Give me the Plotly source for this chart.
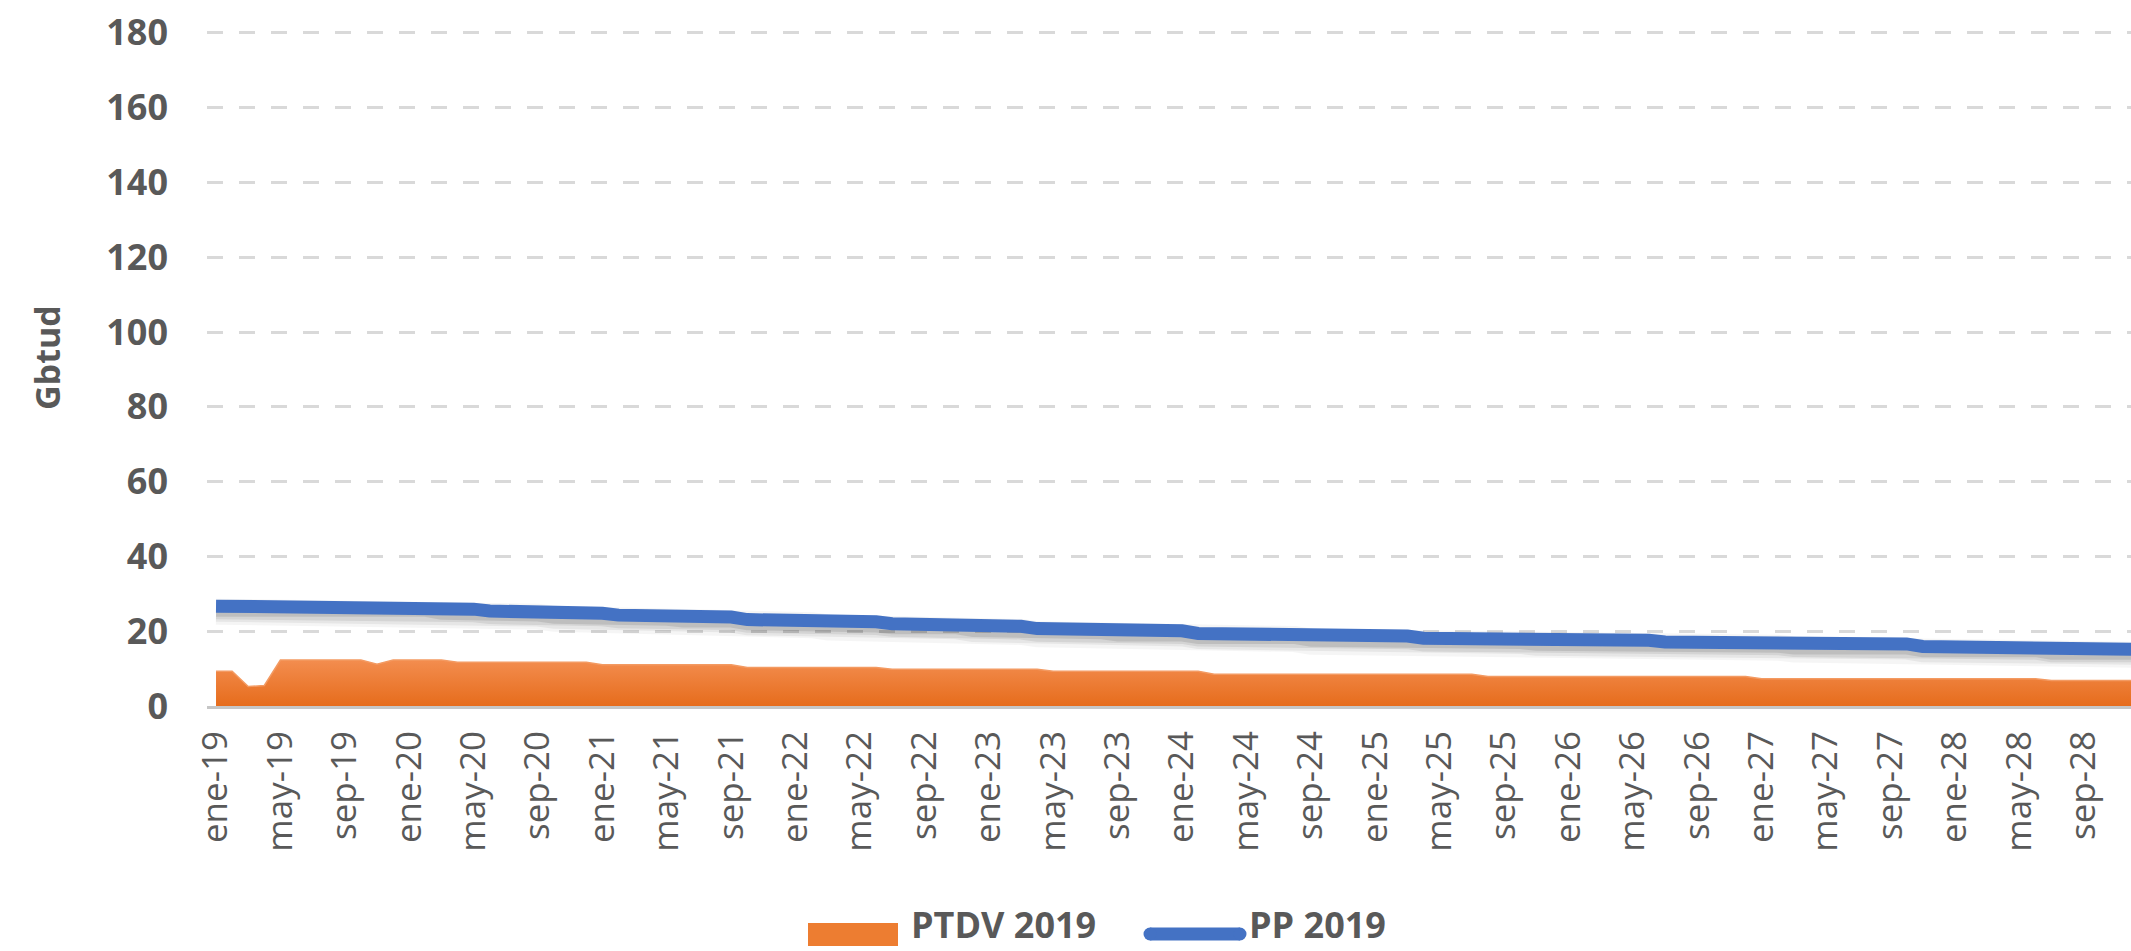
import plotly.graph_objects as go

# ---------------- data ----------------
MONTH_ABBR = ["ene", "feb", "mar", "abr", "may", "jun", "jul", "ago", "sep", "oct", "nov", "dic"]
YEARS = ["19", "20", "21", "22", "23", "24", "25", "26", "27", "28"]
months = [f"{m}-{y}" for y in YEARS for m in MONTH_ABBR]

ptdv_2019 = (
    [9.3, 9.3, 5.2, 5.5]
    + [12.3] * 6
    + [11.2]
    + [12.3] * 4
    + [11.7] * 9
    + [11.0] * 9
    + [10.3] * 9
    + [9.8] * 10
    + [9.3] * 10
    + [8.5] * 17
    + [7.9] * 17
    + [7.3] * 18
    + [6.8] * 6
)

pp_2019 = (
    [26.7] * 14
    + [25.9] * 3
    + [25.4] * 4
    + [24.8] * 4
    + [24.3] * 4
    + [23.8] * 4
    + [23.1] * 5
    + [22.5] * 4
    + [22.0] * 5
    + [21.3] * 4
    + [20.7] * 5
    + [20.1] * 5
    + [19.4] * 7
    + [18.7] * 7
    + [18.1] * 7
    + [17.6] * 8
    + [17.1] * 8
    + [16.6] * 8
    + [15.9] * 8
    + [15.2] * 6
)

tick_labels = months[::4]
y_ticks = [0, 20, 40, 60, 80, 100, 120, 140, 160, 180]
series_names = ["PTDV 2019", "PP 2019"]

# ---------------- style ----------------
W, H = 2131, 951
L, R, T, B = 207, 0, 31, 245
PW, PH = W - L - R, H - T - B
TEXT = "#595959"
FONT = "Open Sans"
ORANGE = "#ED7D31"
BLUE = "#4472C4"
Y_MAX = 180.5


def px_x(px):
    return (px - L) / PW


def px_y(py):
    return (H - B - py) / PH


fig = go.Figure()

# orange area
fig.add_trace(go.Scatter(
    x=months, y=ptdv_2019, name=series_names[0], mode="lines",
    line=dict(color="#F39A62", width=1.5),
    fill="tozeroy",
    fillgradient=dict(type="vertical", start=0, stop=12.3,
                      colorscale=[[0, "#E66C1C"], [1, "#F38D4F"]]),
    showlegend=False, hoverinfo="skip",
))

# soft shadow under the blue line
shadow_y = [v - 1.5 for v in pp_2019]
for w, a in [(26, 0.04), (20, 0.06), (15, 0.08), (10, 0.10)]:
    fig.add_trace(go.Scatter(
        x=months, y=shadow_y, mode="lines",
        line=dict(color=f"rgba(0,0,0,{a})", width=w),
        showlegend=False, hoverinfo="skip",
    ))

# blue line
fig.add_trace(go.Scatter(
    x=months, y=pp_2019, name=series_names[1], mode="lines",
    line=dict(color=BLUE, width=13),
    showlegend=False,
))

fig.update_layout(
    width=W, height=H,
    margin=dict(l=L, r=R, t=T, b=B, pad=0),
    paper_bgcolor="white", plot_bgcolor="white",
    font=dict(family=FONT, color=TEXT),
    showlegend=False,
    xaxis=dict(
        type="category",
        range=[-0.56, 118.94],
        tickmode="array", tickvals=tick_labels, ticktext=tick_labels,
        tickangle=-90,
        tickfont=dict(size=35, color=TEXT, family=FONT),
        ticks="", showgrid=False, zeroline=False,
        showline=True, linecolor="#C6C6C6", linewidth=3,
        ticklabelstandoff=8,
    ),
    yaxis=dict(
        range=[0, Y_MAX],
        tickmode="array", tickvals=y_ticks,
        tickfont=dict(size=36, color=TEXT, family=FONT, weight="bold"),
        showgrid=True, gridcolor="#D9D9D9", gridwidth=3, griddash="16px,16px",
        zeroline=False, showline=False, ticks="",
        ticklabelstandoff=38,
    ),
)

# y axis title
fig.add_annotation(
    text="Gbtud", textangle=-90, xref="paper", yref="paper",
    x=px_x(47), y=px_y(358), xanchor="center", yanchor="middle",
    showarrow=False, font=dict(size=34, color=TEXT, family=FONT, weight="bold"),
)

# legend (custom, to match wide swatches)
fig.add_shape(type="rect", xref="paper", yref="paper",
              x0=px_x(808), x1=px_x(898), y0=px_y(946), y1=px_y(923),
              line=dict(width=0), fillcolor=ORANGE)
fig.add_shape(type="line", xref="paper", yref="paper",
              x0=px_x(1150), x1=px_x(1240), y0=px_y(934), y1=px_y(934),
              line=dict(color=BLUE, width=13))
for cx in (1150, 1240):
    fig.add_shape(type="circle", xref="paper", yref="paper",
                  x0=px_x(cx - 6.5), x1=px_x(cx + 6.5),
                  y0=px_y(934 + 6.5), y1=px_y(934 - 6.5),
                  line=dict(width=0), fillcolor=BLUE)
for name, xpx in ((series_names[0], 910), (series_names[1], 1248)):
    fig.add_annotation(text=name, xref="paper", yref="paper",
                       x=px_x(xpx), y=px_y(950), xanchor="left", yanchor="bottom",
                       showarrow=False, borderpad=0,
                       font=dict(size=36, color=TEXT, family=FONT, weight="bold"))

fig.write_html("out.html", config={"displayModeBar": False},
               post_script="document.body.style.margin='0';")
